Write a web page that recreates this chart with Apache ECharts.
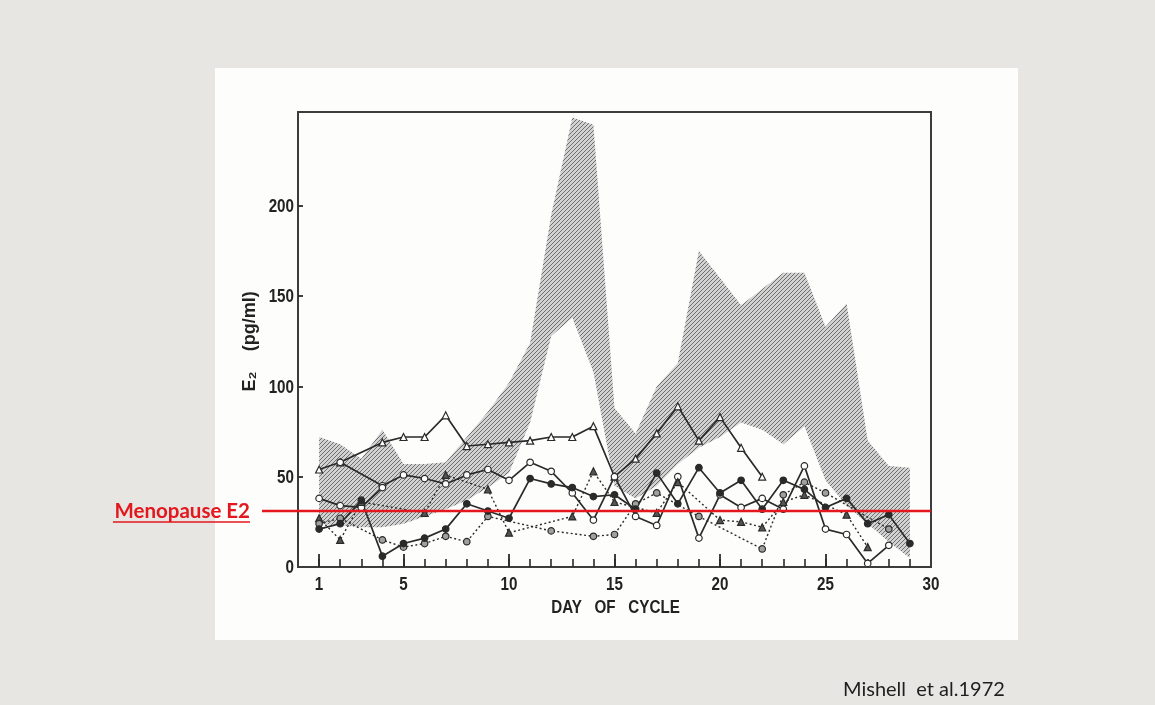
<!DOCTYPE html>
<html>
<head>
<meta charset="utf-8">
<script src="https://cdn.jsdelivr.net/npm/echarts@6/dist/echarts.min.js"></script>
<style>
  html, body { margin: 0; padding: 0; background: #e8e6e2; }
  #chart { width: 1155px; height: 705px; }
</style>
</head>
<body>
<div id="chart"></div>
<script>
// Day of cycle
const days = [1,2,3,4,5,6,7,8,9,10,11,12,13,14,15,16,17,18,19,20,21,22,23,24,25,26,27,28,29];

// Normal range of E2 (shaded band): lower and upper limits, pg/ml
const bandLower = [24,23,22,22,24,28,32,37,44,52,80,128,138,108,45,38,45,57,66,72,80,76,68,78,48,34,24,14,5];
const bandUpper = [72,68,60,76,57,57,58,72,86,102,124,195,249,245,88,74,100,113,175,160,145,154,163,163,133,146,70,56,55];

// Individual subjects, E2 pg/ml per day (null = no sample)
const subjOpenTri   = [54,58,null,69,72,72,84,67,68,69,70,72,72,78,50,60,74,89,70,83,66,50,null,null,null,null,null,null,null];
const subjOpenCirc  = [null,58,null,45,51,49,46,51,54,48,58,53,41,26,50,28,23,50,16,40,33,38,32,56,21,18,2,12,null];
const subjOpenCirc2 = [38,34,33,44,null,null,null,null,null,null,null,null,null,null,null,null,null,null,null,null,null,null,null,null,null,null,null,null,null];
const subjDotTri    = [27,15,36,null,null,30,51,null,43,19,null,null,28,53,36,null,30,47,null,26,25,22,36,40,null,29,11,null,null];
const subjDotCirc   = [24,27,null,15,11,13,17,14,28,null,null,20,null,17,18,35,41,null,28,null,null,10,40,47,41,null,null,21,null];
const subjFilled    = [21,24,37,6,13,16,21,35,31,27,49,46,44,39,40,32,52,35,55,41,48,32,48,43,33,38,24,29,13];

// Menopausal E2 level
const menopauseE2 = 31;

// Axis ticks and labels
const xLabelDays = [1,5,10,15,20,25,30];
const xMajorTicks = [1,5,10,15,20,25];
const xMinorTicks = days;
const yLabelValues = [0,50,100,150,200];
const yTickValues = [50,100,150,200];
const xTitle = 'DAY   OF   CYCLE';
const yTitle = 'E\u2082    (pg/ml)';

const ink = '#2a2a2a';
const labelFont = "'Liberation Sans', Arial, sans-serif";

function pairs(arr) { return days.map((d, i) => [d, arr[i]]); }

// Diagonal hatching used for the normal range
function hatchPattern() {
  const c = document.createElement('canvas');
  c.width = 4; c.height = 4;
  const g = c.getContext('2d');
  g.fillStyle = '#d2d2d2';
  g.fillRect(0, 0, 4, 4);
  g.strokeStyle = '#6e6e6e';
  g.lineWidth = 1;
  g.beginPath();
  g.moveTo(0, 4); g.lineTo(4, 0);
  g.moveTo(-1, 1); g.lineTo(1, -1);
  g.moveTo(3, 5); g.lineTo(5, 3);
  g.stroke();
  return c;
}
const hatch = hatchPattern();

function subject(name, data, symbol, fill, dashed) {
  return {
    name, type: 'line', data: pairs(data), connectNulls: true,
    symbol, symbolSize: symbol === 'triangle' ? 7 : 6.5,
    itemStyle: { color: fill, borderColor: ink, borderWidth: 1.2 },
    lineStyle: { color: ink, width: dashed ? 1.4 : 1.7, type: dashed ? [2, 2.5] : 'solid' },
    z: 4
  };
}

// Normal range drawn as one polygon: upper limit forward, lower limit back
function renderBand(params, api) {
  const pts = [];
  for (let i = 0; i < days.length; i++) pts.push(api.coord([days[i], bandUpper[i]]));
  for (let i = days.length - 1; i >= 0; i--) pts.push(api.coord([days[i], bandLower[i]]));
  return { type: 'polygon', shape: { points: pts },
           style: { fill: { image: hatch, repeat: 'repeat' }, stroke: null } };
}

const chart = echarts.init(document.getElementById('chart'), null, { renderer: 'canvas' });

const panel = { type: 'rect', z: -10, shape: { x: 215, y: 68, width: 803, height: 572 },
                style: { fill: '#fdfdfb' } };
const credit = { type: 'text', left: 843, top: 680,
                 style: { text: 'Mishell  et al.1972', fontFamily: 'Lato, sans-serif', fontSize: 20, fill: '#1e1e1e' } };

chart.setOption({
  animation: false,
  backgroundColor: '#e8e6e2',
  grid: { left: 298, top: 112, right: 224, bottom: 138, show: true,
          borderColor: '#3c3c3c', borderWidth: 2, backgroundColor: 'transparent' },
  xAxis: [
    {
      type: 'value', min: 0, max: 30, position: 'bottom',
      axisLine: { show: false }, splitLine: { show: false },
      axisTick: { show: true, inside: true, length: 8, customValues: xMinorTicks,
                  lineStyle: { color: ink, width: 1.6 } },
      axisLabel: { show: false }
    },
    {
      type: 'value', min: 0, max: 30, position: 'bottom',
      axisLine: { show: false }, splitLine: { show: false },
      axisTick: { show: true, inside: true, length: 13, customValues: xMajorTicks,
                  lineStyle: { color: ink, width: 1.8 } },
      axisLabel: { show: false }
    }
  ],
  yAxis: {
    type: 'value', min: 0, max: 252,
    axisLine: { show: false }, splitLine: { show: false },
    axisTick: { show: true, inside: true, length: 5, customValues: yTickValues,
                lineStyle: { color: ink, width: 1.8 } },
    axisLabel: { show: false }
  },
  series: [
    { name: 'range', type: 'custom', renderItem: renderBand, data: [[1, 0]], z: 1, silent: true },
    subject('A', subjOpenTri, 'triangle', '#ffffff', false),
    subject('B', subjOpenCirc, 'circle', '#ffffff', false),
    subject('C', subjOpenCirc2, 'circle', '#ffffff', false),
    subject('D', subjDotTri, 'triangle', '#555555', true),
    subject('E', subjDotCirc, 'circle', '#a0a0a0', true),
    subject('F', subjFilled, 'circle', ink, false)
  ],
  graphic: [panel, credit]
});

// Condensed bold tick labels, titles and the menopause level, placed with the chart's scales
const px = v => chart.convertToPixel({ xAxisIndex: 0 }, v);
const py = v => chart.convertToPixel({ yAxisIndex: 0 }, v);
const labelStyle = { fontFamily: labelFont, fontWeight: 'bold', fontSize: 19, fill: '#222' };
const g = [panel, credit];

xLabelDays.forEach(d => g.push({
  type: 'text', x: px(d), y: py(0) + 18, scaleX: 0.8, z: 20,
  style: Object.assign({ text: String(d), align: 'center', verticalAlign: 'middle' }, labelStyle)
}));
yLabelValues.forEach(v => g.push({
  type: 'text', x: px(0) - 4, y: py(v) + 1, scaleX: 0.8, z: 20,
  style: Object.assign({ text: String(v), align: 'right', verticalAlign: 'middle' }, labelStyle)
}));
g.push({
  type: 'text', x: px(15) + 1, y: py(0) + 41, scaleX: 0.8, z: 20,
  style: Object.assign({ text: xTitle, align: 'center', verticalAlign: 'middle' }, labelStyle)
});
g.push({
  type: 'text', x: 250, y: py(125), rotation: Math.PI / 2, scaleX: 0.95, z: 20,
  style: { text: yTitle, align: 'center', verticalAlign: 'middle',
           fontFamily: labelFont, fontWeight: 'bold', fontSize: 19, fill: '#222' }
});

const yRef = py(menopauseE2);
g.push(
  { type: 'line', z: 50, shape: { x1: 262, y1: yRef, x2: px(30), y2: yRef },
    style: { stroke: '#e3171d', lineWidth: 2.5 } },
  { type: 'text', z: 50, x: 250, y: yRef,
    style: { text: 'Menopause E2', fontFamily: 'Lato, sans-serif', fontWeight: 'bold', fontSize: 20.5,
             fill: '#e3171d', align: 'right', verticalAlign: 'middle' } },
  { type: 'line', z: 50, shape: { x1: 113, y1: yRef + 11, x2: 250, y2: yRef + 11 },
    style: { stroke: '#e3171d', lineWidth: 1.5 } }
);
chart.setOption({ graphic: g }, { replaceMerge: ['graphic'] });
</script>
</body>
</html>
